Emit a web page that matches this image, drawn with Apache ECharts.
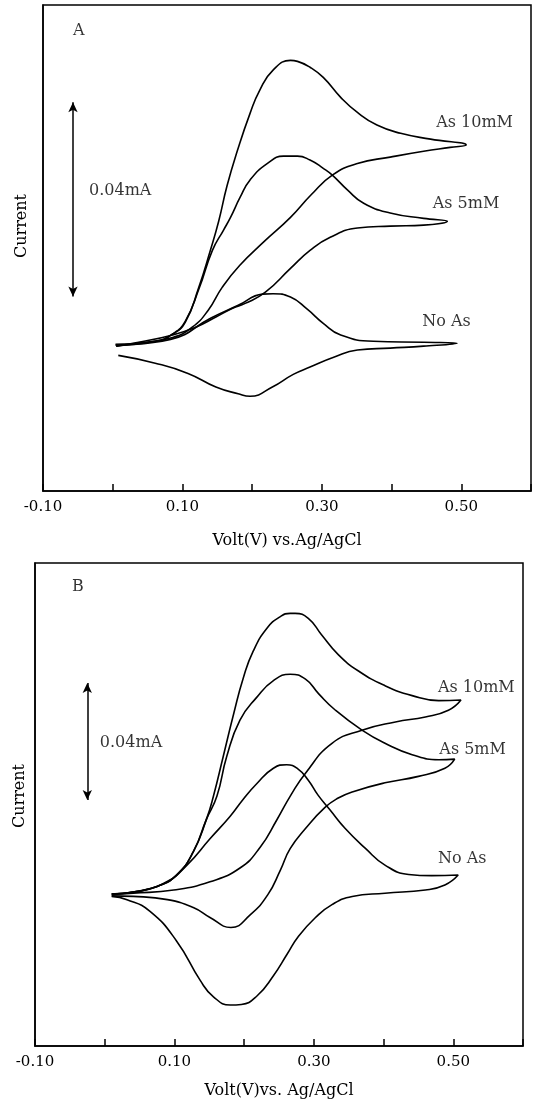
<!DOCTYPE html>
<html>
<head>
<meta charset="utf-8">
<script src="https://cdn.jsdelivr.net/npm/echarts@6/dist/echarts.min.js"></script>
<style>
  html, body { margin: 0; padding: 0; background: #fff; }
  #chart { width: 534px; height: 1100px; }
</style>
</head>
<body>
<div id="chart"></div>
<script>
// ticks on the voltage axis that carry a label
const xLabelTicks = [-0.1, 0.1, 0.3, 0.5];

// Panel A, cyclic voltammograms: [volt (V), current (uA)], forward then reverse scan
const a10mM = [
  [0.004, 0.2], [0.061, 0.8], [0.086, 2.3], [0.104, 4.7], [0.123, 11.7], [0.140, 19.5],
  [0.152, 25.5], [0.164, 32.8], [0.179, 40.1], [0.197, 47.7], [0.211, 52.5], [0.230, 56.6],
  [0.255, 58.6], [0.265, 58.4], [0.283, 57.2], [0.302, 55.1], [0.327, 51.0], [0.351, 47.9],
  [0.379, 45.3], [0.413, 43.6], [0.456, 42.4], [0.507, 41.2],
  [0.484, 40.7], [0.446, 39.9], [0.398, 38.7], [0.351, 37.4], [0.315, 35.0], [0.285, 31.0],
  [0.255, 26.3], [0.217, 21.3], [0.182, 16.4], [0.157, 11.9], [0.137, 7.2], [0.114, 3.7],
  [0.086, 1.6], [0.037, 0.4], [0.005, -0.2]
];
const a5mM = [
  [0.004, 0.0], [0.061, 0.8], [0.086, 2.3], [0.104, 4.9], [0.124, 11.7], [0.143, 19.5],
  [0.159, 23.7], [0.169, 26.3], [0.183, 30.5], [0.197, 34.0], [0.222, 37.4], [0.245, 38.9],
  [0.265, 38.9], [0.283, 38.1], [0.302, 36.4], [0.315, 35.0], [0.337, 31.9], [0.360, 29.2],
  [0.398, 27.2], [0.446, 26.1], [0.480, 25.5],
  [0.446, 24.7], [0.398, 24.5], [0.351, 24.1], [0.312, 22.2], [0.283, 19.5], [0.255, 15.8],
  [0.219, 10.9], [0.190, 8.6], [0.172, 7.6], [0.148, 5.8], [0.119, 3.7], [0.086, 2.1],
  [0.037, 0.6], [0.005, -0.2]
];
const aNoAs = [
  [0.005, 0.0], [0.083, 1.2], [0.141, 5.6], [0.180, 8.2], [0.215, 10.5], [0.230, 10.6],
  [0.255, 9.9], [0.279, 7.4], [0.302, 4.5], [0.327, 2.1], [0.374, 0.8], [0.446, 0.6], [0.494, 0.4],
  [0.446, -0.2], [0.398, -0.6], [0.351, -1.0], [0.317, -2.5], [0.283, -4.5], [0.259, -6.0],
  [0.229, -8.6], [0.197, -10.5], [0.180, -10.0], [0.148, -8.6], [0.108, -5.8], [0.061, -3.7],
  [0.008, -2.1]
];

// Panel B
const b10mM = [
  [0.010, -0.1], [0.041, 0.6], [0.075, 2.5], [0.103, 6.4], [0.127, 14.3], [0.146, 25.5],
  [0.156, 33.4], [0.170, 46.9], [0.185, 61.5], [0.199, 73.9], [0.213, 82.9], [0.233, 90.8],
  [0.252, 94.7], [0.266, 95.8], [0.273, 95.8], [0.292, 94.1], [0.311, 88.5], [0.335, 81.7],
  [0.364, 76.1], [0.402, 71.1], [0.441, 67.7], [0.479, 66.0], [0.511, 66.2],
  [0.493, 62.7], [0.460, 60.4], [0.417, 58.7], [0.369, 55.9], [0.326, 51.4], [0.288, 41.2],
  [0.267, 33.7], [0.247, 25.3], [0.223, 15.9], [0.194, 8.8], [0.151, 4.1],
  [0.099, 1.3], [0.041, 0.2], [0.010, -0.2]
];
const b5mM = [
  [0.010, -0.1], [0.041, 0.6], [0.075, 2.5], [0.103, 6.4], [0.127, 14.3], [0.146, 25.5],
  [0.161, 33.4], [0.175, 46.9], [0.194, 59.3], [0.218, 67.1], [0.242, 72.8], [0.266, 75.0],
  [0.288, 73.3], [0.307, 68.3], [0.331, 62.7], [0.369, 55.9], [0.402, 51.4], [0.441, 47.5],
  [0.479, 45.8], [0.502, 46.0],
  [0.488, 42.9], [0.450, 40.1], [0.402, 37.9], [0.355, 34.8], [0.335, 32.7], [0.316, 29.5],
  [0.288, 22.3], [0.266, 15.4], [0.252, 8.1], [0.234, -0.3], [0.209, -7.1], [0.181, -11.5],
  [0.151, -8.1], [0.127, -4.7], [0.090, -2.0], [0.041, -0.9], [0.010, -0.7]
];
const bNoAs = [
  [0.010, -0.1], [0.051, 1.0], [0.089, 4.1], [0.118, 9.8], [0.151, 18.8], [0.180, 26.5],
  [0.199, 32.4], [0.218, 37.6], [0.242, 42.9], [0.261, 44.1], [0.277, 42.7], [0.292, 38.8],
  [0.306, 33.7], [0.323, 28.7], [0.345, 22.3], [0.374, 15.5], [0.402, 9.8], [0.436, 6.6],
  [0.469, 6.2], [0.507, 6.4],
  [0.488, 3.0], [0.460, 1.3], [0.402, 0.2], [0.355, -0.9], [0.326, -3.7], [0.302, -8.2],
  [0.278, -14.5], [0.262, -20.5], [0.242, -28.0], [0.218, -35.0], [0.196, -37.8], [0.180, -38.0],
  [0.156, -35.2], [0.137, -29.6], [0.103, -16.1], [0.065, -6.0], [0.032, -2.0], [0.010, -0.9]
];

// text notes placed in data units: [text, volt, current]
const aNotes = [
  ['A', -0.057, 64.6], ['0.04mA', -0.034, 31.7],
  ['As 10mM', 0.464, 45.8], ['As 5mM', 0.459, 29.0], ['No As', 0.444, 4.9]
];
const bNotes = [
  ['B', -0.047, 105.0], ['0.04mA', -0.007, 51.6],
  ['As 10mM', 0.478, 70.5], ['As 5mM', 0.480, 49.3], ['No As', 0.478, 12.1]
];
// 0.04 mA scale bars: [volt, from uA, to uA]
const aScale = [-0.057, 10, 50];
const bScale = [-0.025, 32, 72];

const font = 'DejaVu Serif';

function xAxis(idx, title, gap) {
  return {
    type: 'value', gridIndex: idx, min: -0.1, max: 0.6, interval: 0.1,
    name: title, nameLocation: 'middle', nameGap: gap,
    nameTextStyle: { fontFamily: font, fontSize: 16, color: '#000' },
    axisLine: { onZero: false, lineStyle: { color: '#000', width: 1.5 } },
    axisTick: { inside: true, length: 7, lineStyle: { color: '#000', width: 1.5 } },
    axisLabel: {
      margin: 9, fontFamily: font, fontSize: 15, color: '#000',
      formatter: v => xLabelTicks.some(t => Math.abs(t - v) < 1e-6) ? v.toFixed(2) : ''
    },
    splitLine: { show: false }
  };
}

function yAxis(idx, min, max) {
  return {
    type: 'value', gridIndex: idx, min: min, max: max,
    axisLine: { show: true, onZero: false, lineStyle: { color: '#000', width: 1.5 } },
    axisTick: { show: false }, axisLabel: { show: false }, splitLine: { show: false }
  };
}

function curve(data, idx) {
  return {
    type: 'line', xAxisIndex: idx, yAxisIndex: idx, data: data,
    smooth: 0.5, showSymbol: false, silent: true,
    lineStyle: { color: '#000', width: 1.6 }
  };
}

function notes(list, scale, idx) {
  return {
    type: 'scatter', xAxisIndex: idx, yAxisIndex: idx, symbolSize: 0, silent: true,
    data: list.map(n => ({ name: n[0], value: [n[1], n[2]] })),
    label: {
      show: true, position: [0, 0], align: 'left', verticalAlign: 'middle',
      formatter: '{b}', fontFamily: font, fontSize: 16, color: '#000'
    },
    markLine: {
      silent: true, symbol: ['arrow', 'arrow'], symbolSize: [7, 10],
      label: { show: false },
      lineStyle: { color: '#000', type: 'solid', width: 1.5 },
      data: [[{ coord: [scale[0], scale[1]] }, { coord: [scale[0], scale[2]] }]]
    }
  };
}

const chart = echarts.init(document.getElementById('chart'));
chart.setOption({
  animation: false,
  backgroundColor: '#fff',
  grid: [
    { left: 43, top: 5, width: 488, height: 486, show: true, borderColor: '#000', borderWidth: 1.5 },
    { left: 35, top: 563, width: 488, height: 489, show: true, borderColor: '#000', borderWidth: 1.5 }
  ],
  xAxis: [xAxis(0, 'Volt(V) vs.Ag/AgCl', 42), xAxis(1, 'Volt(V)vs. Ag/AgCl', 37)],
  yAxis: [yAxis(0, -30, 70), yAxis(1, -52, 113)],
  graphic: [
    { type: 'text', x: 22, y: 226, rotation: Math.PI / 2,
      style: { text: 'Current', font: '16px "DejaVu Serif"', fill: '#000', align: 'center', verticalAlign: 'middle' } },
    { type: 'text', x: 20, y: 796, rotation: Math.PI / 2,
      style: { text: 'Current', font: '16px "DejaVu Serif"', fill: '#000', align: 'center', verticalAlign: 'middle' } }
  ],
  series: [
    curve(a10mM, 0), curve(a5mM, 0), curve(aNoAs, 0), notes(aNotes, aScale, 0),
    curve(b10mM, 1), curve(b5mM, 1), curve(bNoAs, 1), notes(bNotes, bScale, 1)
  ]
});
</script>
</body>
</html>
